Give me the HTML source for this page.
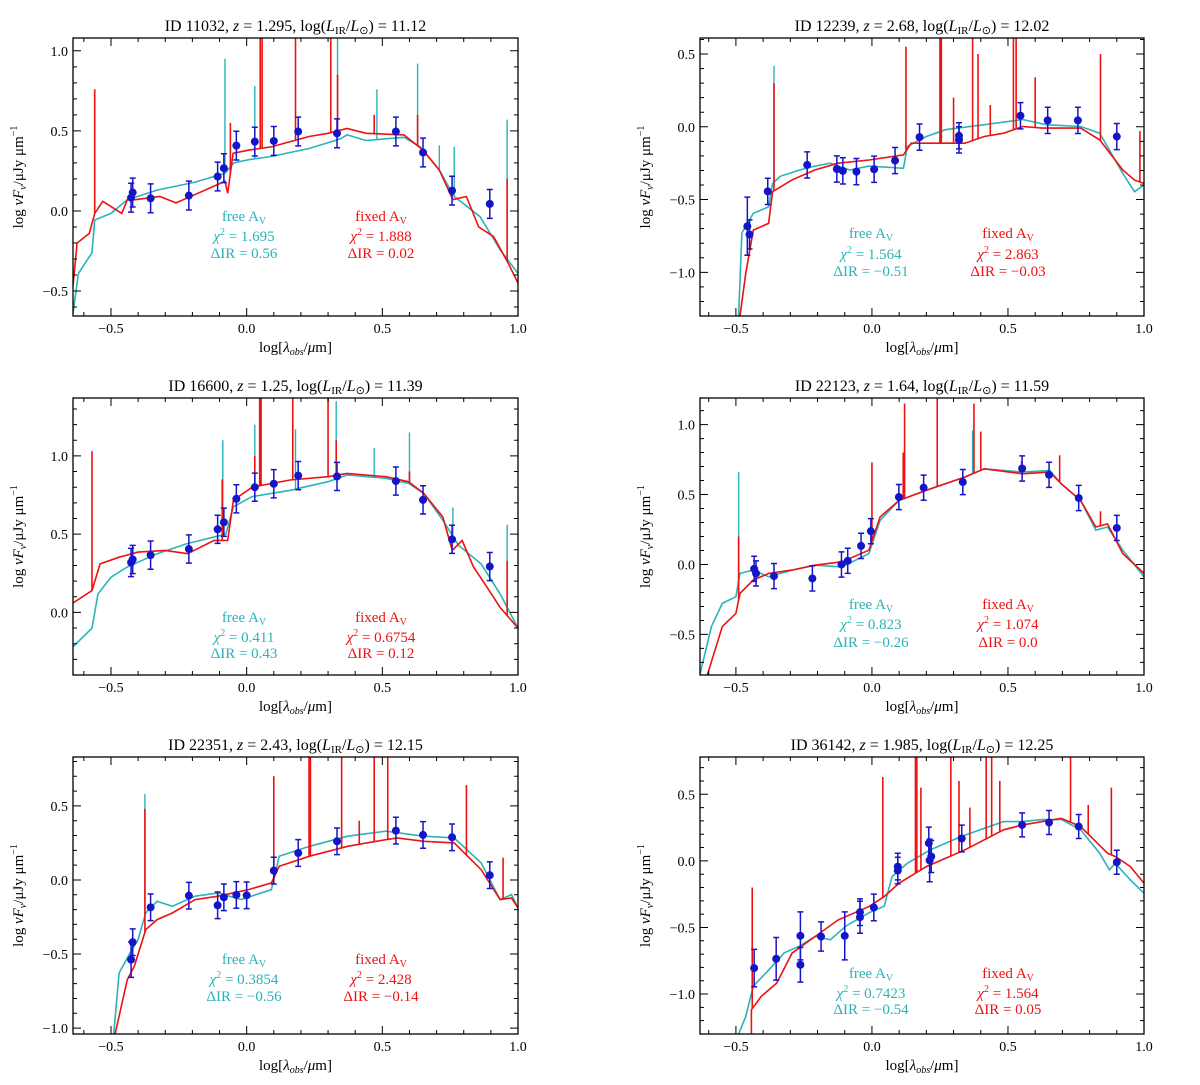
<!DOCTYPE html>
<html><head><meta charset="utf-8"><style>
body{margin:0;background:#fff}
svg text{font-family:"Liberation Serif",serif}
</style></head><body>
<svg id="fig" width="1200" height="1080" viewBox="0 0 1200 1080" xmlns="http://www.w3.org/2000/svg"></svg>
<script>
// ---------- data ----------
const p1Points=[[-0.426,0.083,0.09],[-0.42,0.115,0.09],[-0.354,0.079,0.09],[-0.213,0.096,0.09],[-0.107,0.215,0.09],[-0.084,0.267,0.09],[-0.038,0.408,0.09],[0.03,0.433,0.09],[0.10,0.437,0.09],[0.19,0.496,0.09],[0.333,0.485,0.09],[0.55,0.496,0.09],[0.65,0.365,0.09],[0.757,0.127,0.09],[0.896,0.044,0.09]];
const p1Cyan=[[-0.64,-0.64],[-0.62,-0.39],[-0.57,-0.26],[-0.56,-0.056],[-0.50,-0.015],[-0.44,0.07],[-0.33,0.13],[-0.19,0.18],[-0.08,0.235],[-0.047,0.30],[0.008,0.32],[0.09,0.34],[0.23,0.39],[0.345,0.45],[0.37,0.475],[0.44,0.44],[0.58,0.46],[0.64,0.40],[0.71,0.255],[0.765,0.09],[0.86,-0.035],[0.935,-0.245],[1.0,-0.39]];
const p1Red=[[-0.64,-0.47],[-0.625,-0.2],[-0.58,-0.14],[-0.56,-0.015],[-0.53,0.06],[-0.46,-0.015],[-0.44,0.07],[-0.41,0.07],[-0.32,0.09],[-0.26,0.05],[-0.18,0.11],[-0.08,0.185],[-0.07,0.11],[-0.05,0.36],[0.008,0.38],[0.09,0.40],[0.23,0.465],[0.30,0.485],[0.37,0.515],[0.44,0.485],[0.58,0.475],[0.65,0.38],[0.71,0.255],[0.76,0.07],[0.81,0.09],[0.855,-0.1],[0.91,-0.16],[0.965,-0.33],[1.0,-0.45]];
const p1RedLines=[[-0.56,0.76],[0.05,1.08],[0.057,1.08],[0.18,1.08],[0.31,1.08],[0.335,0.85],[0.47,0.6],[0.63,0.6],[0.96,0.2],[-0.06,0.55]];
const p1CyanLines=[[-0.08,0.95],[0.03,0.78],[0.335,1.08],[0.63,0.92],[0.48,0.76],[0.71,0.41],[0.765,0.4],[0.96,0.57]];

const p2Points=[[-0.458,-0.683,0.2],[-0.45,-0.74,0.1],[-0.383,-0.444,0.09],[-0.238,-0.262,0.09],[-0.129,-0.29,0.09],[-0.107,-0.303,0.09],[-0.057,-0.308,0.09],[0.008,-0.292,0.09],[0.085,-0.232,0.09],[0.175,-0.071,0.09],[0.32,-0.062,0.09],[0.32,-0.09,0.09],[0.546,0.076,0.09],[0.646,0.044,0.09],[0.757,0.044,0.09],[0.90,-0.067,0.09]];
const p2Cyan=[[-0.49,-1.3],[-0.478,-0.73],[-0.436,-0.595],[-0.38,-0.55],[-0.365,-0.39],[-0.337,-0.34],[-0.266,-0.297],[-0.21,-0.27],[-0.153,-0.25],[-0.082,-0.297],[-0.011,-0.27],[0.116,-0.285],[0.13,-0.135],[0.20,-0.067],[0.27,-0.02],[0.413,0.014],[0.554,0.05],[0.64,0.014],[0.767,0.002],[0.837,-0.044],[0.922,-0.32],[0.965,-0.446],[1.0,-0.4]];
const p2Red=[[-0.485,-1.3],[-0.464,-1.01],[-0.436,-0.71],[-0.38,-0.664],[-0.365,-0.446],[-0.294,-0.365],[-0.21,-0.297],[-0.124,-0.25],[-0.011,-0.228],[0.116,-0.193],[0.144,-0.113],[0.20,-0.113],[0.342,-0.113],[0.413,-0.067],[0.484,-0.044],[0.554,0.002],[0.625,-0.009],[0.767,-0.009],[0.837,-0.09],[0.922,-0.297],[0.965,-0.366],[1.0,-0.39]];
const p2RedLines=[[-0.36,0.3],[0.125,0.55],[0.25,0.61],[0.255,0.61],[0.37,0.61],[0.39,0.5],[0.52,0.61],[0.53,0.61],[0.6,0.34],[0.84,0.5],[0.985,-0.03],[0.3,0.2],[0.435,0.15]];
const p2CyanLines=[[-0.36,0.42]];

const p3Points=[[-0.426,0.319,0.09],[-0.42,0.338,0.09],[-0.354,0.366,0.09],[-0.213,0.405,0.09],[-0.107,0.531,0.09],[-0.084,0.576,0.09],[-0.038,0.726,0.09],[0.03,0.80,0.09],[0.10,0.822,0.09],[0.19,0.874,0.09],[0.333,0.869,0.09],[0.55,0.839,0.09],[0.65,0.719,0.09],[0.757,0.467,0.09],[0.896,0.293,0.09]];
const p3Cyan=[[-0.64,-0.22],[-0.57,-0.1],[-0.548,0.118],[-0.5,0.225],[-0.44,0.29],[-0.33,0.375],[-0.218,0.44],[-0.077,0.50],[-0.049,0.675],[0.02,0.74],[0.16,0.78],[0.30,0.835],[0.37,0.878],[0.513,0.857],[0.597,0.825],[0.653,0.76],[0.723,0.59],[0.78,0.43],[0.864,0.31],[0.934,0.118],[1.0,-0.1]];
const p3Red=[[-0.64,0.06],[-0.57,0.14],[-0.54,0.31],[-0.47,0.353],[-0.4,0.385],[-0.3,0.396],[-0.218,0.375],[-0.12,0.46],[-0.07,0.46],[-0.049,0.717],[0.02,0.80],[0.16,0.846],[0.30,0.867],[0.37,0.888],[0.513,0.867],[0.597,0.835],[0.653,0.76],[0.723,0.61],[0.758,0.396],[0.794,0.46],[0.836,0.29],[0.878,0.182],[0.934,0.032],[1.0,-0.1]];
const p3RedLines=[[-0.57,1.03],[0.048,1.37],[0.053,1.37],[0.17,1.37],[0.30,1.37],[0.33,1.1],[0.60,0.9],[0.96,0.33],[-0.09,0.85],[0.03,1.0]];
const p3CyanLines=[[-0.088,1.1],[0.03,1.2],[0.33,1.35],[0.47,1.05],[0.60,1.15],[0.76,0.67],[0.96,0.56],[0.18,1.17]];

const p4Points=[[-0.433,-0.031,0.09],[-0.426,-0.064,0.09],[-0.36,-0.083,0.09],[-0.219,-0.10,0.09],[-0.112,0.0,0.09],[-0.089,0.026,0.09],[-0.04,0.133,0.09],[-0.004,0.238,0.09],[0.099,0.482,0.09],[0.19,0.549,0.09],[0.334,0.589,0.09],[0.552,0.686,0.09],[0.651,0.641,0.09],[0.76,0.475,0.09],[0.90,0.261,0.09]];
const p4Cyan=[[-0.634,-0.80],[-0.59,-0.444],[-0.55,-0.278],[-0.5,-0.23],[-0.485,-0.064],[-0.436,-0.04],[-0.379,-0.088],[-0.294,-0.04],[-0.21,-0.005],[-0.11,-0.017],[-0.011,0.078],[0.03,0.316],[0.10,0.458],[0.20,0.53],[0.342,0.625],[0.413,0.684],[0.554,0.66],[0.653,0.672],[0.696,0.577],[0.767,0.458],[0.823,0.245],[0.866,0.268],[0.922,0.102],[1.0,-0.088]];
const p4Red=[[-0.605,-0.79],[-0.55,-0.444],[-0.5,-0.35],[-0.485,-0.207],[-0.436,-0.112],[-0.379,-0.064],[-0.294,-0.04],[-0.21,-0.005],[-0.11,0.019],[-0.011,0.102],[0.03,0.34],[0.10,0.458],[0.20,0.53],[0.342,0.625],[0.413,0.684],[0.554,0.648],[0.653,0.66],[0.696,0.577],[0.767,0.458],[0.823,0.268],[0.866,0.29],[0.922,0.078],[1.0,-0.064]];
const p4RedLines=[[-0.49,0.2],[0.0,0.73],[0.12,1.15],[0.115,0.8],[0.24,1.19],[0.375,1.15],[0.4,0.95],[0.55,0.74],[0.69,0.78],[0.84,0.38]];
const p4CyanLines=[[-0.49,0.66],[0.37,0.96]];

const p5Points=[[-0.426,-0.538,0.12],[-0.42,-0.42,0.09],[-0.354,-0.185,0.09],[-0.213,-0.106,0.09],[-0.107,-0.171,0.09],[-0.084,-0.117,0.09],[-0.038,-0.101,0.09],[0.0,-0.104,0.09],[0.10,0.063,0.09],[0.19,0.182,0.09],[0.333,0.261,0.09],[0.55,0.333,0.09],[0.65,0.304,0.09],[0.757,0.288,0.09],[0.896,0.032,0.09]];
const p5Cyan=[[-0.49,-1.04],[-0.47,-0.628],[-0.43,-0.493],[-0.40,-0.403],[-0.372,-0.223],[-0.33,-0.144],[-0.274,-0.178],[-0.19,-0.11],[-0.105,-0.088],[-0.021,-0.133],[0.091,-0.065],[0.12,0.16],[0.232,0.227],[0.372,0.295],[0.513,0.329],[0.653,0.295],[0.765,0.284],[0.864,0.115],[0.934,-0.133],[0.976,-0.099],[1.0,-0.189]];
const p5Red=[[-0.485,-1.04],[-0.44,-0.673],[-0.414,-0.583],[-0.372,-0.336],[-0.33,-0.268],[-0.274,-0.223],[-0.19,-0.133],[-0.105,-0.11],[0.007,-0.065],[0.091,-0.02],[0.12,0.092],[0.232,0.16],[0.372,0.227],[0.513,0.272],[0.555,0.284],[0.653,0.261],[0.765,0.25],[0.864,0.07],[0.934,-0.133],[0.976,-0.122],[1.0,-0.189]];
const p5RedLines=[[-0.375,0.48],[0.1,0.7],[0.23,0.83],[0.235,0.83],[0.35,0.83],[0.47,0.83],[0.52,0.83],[0.81,0.64],[0.945,0.15],[0.415,0.4]];
const p5CyanLines=[[-0.375,0.58]];

const p6Points=[[-0.433,-0.805,0.14],[-0.352,-0.735,0.16],[-0.263,-0.563,0.18],[-0.263,-0.78,0.13],[-0.187,-0.568,0.11],[-0.10,-0.563,0.18],[-0.044,-0.385,0.1],[-0.044,-0.423,0.12],[0.007,-0.35,0.1],[0.095,-0.043,0.1],[0.095,-0.073,0.1],[0.209,0.133,0.12],[0.212,0.003,0.16],[0.218,0.033,0.12],[0.33,0.168,0.1],[0.552,0.27,0.09],[0.651,0.288,0.09],[0.76,0.258,0.09],[0.90,-0.01,0.09]];
const p6Cyan=[[-0.49,-1.3],[-0.464,-1.17],[-0.436,-0.94],[-0.38,-0.82],[-0.322,-0.69],[-0.266,-0.64],[-0.209,-0.568],[-0.153,-0.593],[-0.096,-0.49],[-0.011,-0.39],[0.045,-0.34],[0.074,-0.118],[0.13,-0.018],[0.215,0.083],[0.328,0.183],[0.413,0.245],[0.484,0.295],[0.554,0.295],[0.625,0.31],[0.696,0.31],[0.767,0.233],[0.837,0.058],[0.873,-0.068],[0.894,-0.018],[0.95,-0.143],[1.0,-0.243]];
const p6Red=[[-0.443,-1.3],[-0.443,-1.118],[-0.407,-1.018],[-0.35,-0.918],[-0.294,-0.693],[-0.209,-0.568],[-0.124,-0.443],[-0.011,-0.343],[0.045,-0.268],[0.10,-0.168],[0.20,-0.043],[0.342,0.083],[0.413,0.158],[0.484,0.233],[0.554,0.27],[0.696,0.32],[0.767,0.258],[0.866,0.058],[0.894,0.033],[0.95,-0.043],[1.0,-0.168]];
const p6RedLines=[[-0.44,-0.2],[0.04,0.63],[0.16,0.78],[0.165,0.78],[0.18,0.55],[0.29,0.78],[0.42,0.78],[0.44,0.78],[0.47,0.6],[0.73,0.78],[0.795,0.42],[0.88,0.55],[0.32,0.6],[0.36,0.4]];
const p6CyanLines=[];

const xTicks=[-0.5,0.0,0.5,1.0];
const xTickLabels=["\u22120.5","0.0","0.5","1.0"];

const panels=[
 {id:"11032",z:"1.295",L:"11.12",fx:[73,518],fy:[38,316],xr:[-0.64,1.0],yr:[-0.656,1.08],yt:[-0.5,0,0.5,1.0],pts:p1Points,cy:p1Cyan,rd:p1Red,rl:p1RedLines,cl:p1CyanLines,chiF:"1.695",irF:"0.56",chiR:"1.888",irR:"0.02",ay:[216,236,253],xl:"log[\u03BB",ylab:"log \u03BDF\u03BD/\u03BCJy \u03BCm\u207B\u00B9"},
 {id:"12239",z:"2.68",L:"12.02",fx:[700,1144],fy:[38,316],xr:[-0.632,1.0],yr:[-1.30,0.61],yt:[-1.0,-0.5,0,0.5],pts:p2Points,cy:p2Cyan,rd:p2Red,rl:p2RedLines,cl:p2CyanLines,chiF:"1.564",irF:"\u22120.51",chiR:"2.863",irR:"\u22120.03",ay:[233,254,271]},
 {id:"16600",z:"1.25",L:"11.39",fx:[73,518],fy:[398,675],xr:[-0.64,1.0],yr:[-0.40,1.37],yt:[0,0.5,1.0],pts:p3Points,cy:p3Cyan,rd:p3Red,rl:p3RedLines,cl:p3CyanLines,chiF:"0.411",irF:"0.43",chiR:"0.6754",irR:"0.12",ay:[617,637,653]},
 {id:"22123",z:"1.64",L:"11.59",fx:[700,1144],fy:[398,675],xr:[-0.632,1.0],yr:[-0.79,1.19],yt:[-0.5,0,0.5,1.0],pts:p4Points,cy:p4Cyan,rd:p4Red,rl:p4RedLines,cl:p4CyanLines,chiF:"0.823",irF:"\u22120.26",chiR:"1.074",irR:"0.0",ay:[604,624,642]},
 {id:"22351",z:"2.43",L:"12.15",fx:[73,518],fy:[757,1034],xr:[-0.64,1.0],yr:[-1.04,0.83],yt:[-1.0,-0.5,0,0.5],pts:p5Points,cy:p5Cyan,rd:p5Red,rl:p5RedLines,cl:p5CyanLines,chiF:"0.3854",irF:"\u22120.56",chiR:"2.428",irR:"\u22120.14",ay:[959,979,996]},
 {id:"36142",z:"1.985",L:"12.25",fx:[700,1144],fy:[757,1034],xr:[-0.632,1.0],yr:[-1.30,0.78],yt:[-1.0,-0.5,0,0.5],pts:p6Points,cy:p6Cyan,rd:p6Red,rl:p6RedLines,cl:p6CyanLines,chiF:"0.7423",irF:"\u22120.54",chiR:"1.564",irR:"0.05",ay:[973,993,1009]}
];

const NS="http://www.w3.org/2000/svg";
const svg=document.getElementById('fig');
function mk(tag,attrs,parent){const e=document.createElementNS(NS,tag);for(const k in attrs)e.setAttribute(k,attrs[k]);(parent||svg).appendChild(e);return e;}
const CY="#2ab3b8",RD="#ee1111",BL="#1515c8";
function fmt(v){return (v<0?"\u2212":"")+Math.abs(v).toFixed(1);}
function interp(arr,x){if(x<=arr[0][0])return arr[0][1];for(let i=1;i<arr.length;i++){if(x<=arr[i][0]){const a=arr[i-1],b=arr[i];return a[1]+(b[1]-a[1])*(x-a[0])/(b[0]-a[0]);}}return arr[arr.length-1][1];}

panels.forEach((P,pi)=>{
 const [x0,x1]=P.fx,[y0,y1]=P.fy;
 const sx=v=>x0+(v-P.xr[0])/(P.xr[1]-P.xr[0])*(x1-x0);
 const sy=v=>y1-(v-P.yr[0])/(P.yr[1]-P.yr[0])*(y1-y0);
 const g=mk('g',{});
 
 
 const cp=mk('clipPath',{id:'cp'+pi},g);mk('rect',{x:x0,y:y0,width:x1-x0,height:y1-y0},cp);
 const plot=mk('g',{'clip-path':'url(#cp'+pi+')'},g);
 // cyan lines & curve
 const path=arr=>arr.map((p,i)=>(i?'L':'M')+sx(p[0]).toFixed(1)+','+sy(p[1]).toFixed(1)).join('');
 const cyc=mk('path',{d:path(P.cy),fill:'none',stroke:CY,'stroke-width':1.6},plot);
 
 
 P.cl.forEach(l=>{const e=mk('line',{x1:sx(l[0]),x2:sx(l[0]),y1:sy(interp(P.cy,l[0])),y2:sy(l[1]),stroke:CY,'stroke-width':1.4},plot);
  
  });
 const rdc=mk('path',{d:path(P.rd),fill:'none',stroke:RD,'stroke-width':1.6},plot);
 
 
 P.rl.forEach(l=>{const e=mk('line',{x1:sx(l[0]),x2:sx(l[0]),y1:sy(interp(P.rd,l[0])),y2:sy(l[1]),stroke:RD,'stroke-width':1.6},plot);
  
  });
 // points
 P.pts.forEach(p=>{const X=sx(p[0]),Ya=sy(p[1]+p[2]),Yb=sy(p[1]-p[2]);
  const eb=mk('path',{d:`M${X},${Ya}L${X},${Yb}M${X-3},${Ya}L${X+3},${Ya}M${X-3},${Yb}L${X+3},${Yb}`,stroke:BL,'stroke-width':1.5,fill:'none'},plot);
  
  
  const c=mk('circle',{cx:X,cy:sy(p[1]),r:4,fill:BL},plot);
  
  });
 // frame
 const fr=mk('rect',{x:x0,y:y0,width:x1-x0,height:y1-y0,fill:'none',stroke:'#000','stroke-width':1.3},g);
 
 
 // ticks
 let td='';
 for(let k=-6;k<=10;k++){const v=k/10;if(v<P.xr[0]||v>P.xr[1])continue;const X=sx(v);const L=(k%5===0)?8:4;td+=`M${X},${y1}L${X},${y1-L}M${X},${y0}L${X},${y0+L}`;}
 for(let k=-14;k<=14;k++){const v=k/10;if(v<P.yr[0]||v>P.yr[1])continue;const Y=sy(v);const L=(k%5===0)?8:4;td+=`M${x0},${Y}L${x0+L},${Y}M${x1},${Y}L${x1-L},${Y}`;}
 const tk=mk('path',{d:td,stroke:'#000','stroke-width':1,fill:'none'},g);
 
 
 xTicks.forEach((v,i)=>{const t=mk('text',{x:sx(v),y:y1+17,'font-size':14,'text-anchor':'middle'},g);t.textContent=xTickLabels[i];
  
  });
 P.yt.forEach(v=>{const t=mk('text',{x:x0-5,y:sy(v)+5,'font-size':14,'text-anchor':'end'},g);t.textContent=fmt(v);
  
  });
 // title
 const cx=(x0+x1)/2;
 const tt=mk('text',{x:cx,y:y0-7,'font-size':16,'text-anchor':'middle'},g);
 
 
 tt.innerHTML=`ID ${P.id}, <tspan font-style="italic">z</tspan> = ${P.z}, log(<tspan font-style="italic">L</tspan><tspan font-size="11" dy="3">IR</tspan><tspan dy="-3">/</tspan><tspan font-style="italic">L</tspan><tspan font-size="11" dy="3">\u2299</tspan><tspan dy="-3">) = ${P.L}</tspan>`;
 // x label
 const xl=mk('text',{x:cx,y:y1+36,'font-size':15,'text-anchor':'middle'},g);
 
 
 xl.innerHTML=`log[<tspan font-style="italic">\u03BB</tspan><tspan font-size="10" dy="3" font-style="italic">obs</tspan><tspan dy="-3">/</tspan><tspan font-style="italic">\u03BC</tspan>m]`;
 // y label
 const yx=x0-50,yy=(y0+y1)/2;
 const yl=mk('text',{x:yx,y:yy,'font-size':15,'text-anchor':'middle',transform:`rotate(-90 ${yx} ${yy})`},g);
 
 
 yl.innerHTML=`log <tspan font-style="italic">\u03BDF</tspan><tspan font-size="10" dy="3" font-style="italic">\u03BD</tspan><tspan dy="-3">/\u03BCJy \u03BCm</tspan><tspan font-size="10" dy="-6">\u22121</tspan>`;
 // annotations
 const ax1=x0+171,ax2=x0+308;
 const ann=(x,y,col,html,name)=>{const t=mk('text',{x:x,y:y,'font-size':15,'text-anchor':'middle',fill:col},g);t.innerHTML=html;
  
  };
 ann(ax1,P.ay[0]+5,CY,'free A<tspan font-size="10" dy="3">V</tspan>','free-av-label');
 ann(ax1,P.ay[1]+5,CY,`<tspan font-style="italic">\u03C7</tspan><tspan font-size="10" dy="-6">2</tspan><tspan dy="6"> = ${P.chiF}</tspan>`,'free-av-chi2');
 ann(ax1,P.ay[2]+5,CY,`\u0394IR = ${P.irF}`,'free-av-delta-ir');
 ann(ax2,P.ay[0]+5,RD,'fixed A<tspan font-size="10" dy="3">V</tspan>','fixed-av-label');
 ann(ax2,P.ay[1]+5,RD,`<tspan font-style="italic">\u03C7</tspan><tspan font-size="10" dy="-6">2</tspan><tspan dy="6"> = ${P.chiR}</tspan>`,'fixed-av-chi2');
 ann(ax2,P.ay[2]+5,RD,`\u0394IR = ${P.irR}`,'fixed-av-delta-ir');
});
</script>
</body></html>
